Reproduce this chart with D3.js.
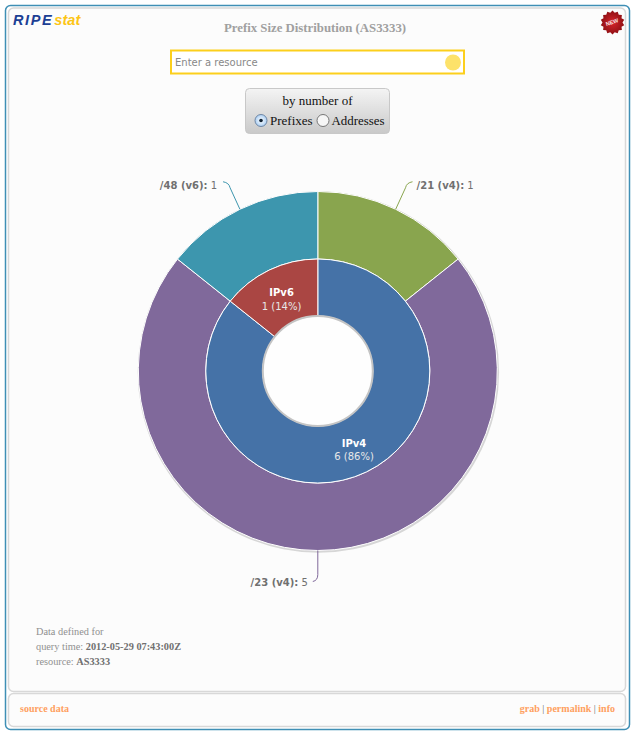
<!DOCTYPE html>
<html><head><meta charset="utf-8">
<script src="https://cdnjs.cloudflare.com/ajax/libs/d3/7.8.5/d3.min.js"></script>
<style>
html,body{margin:0;padding:0;background:#fff;overflow:hidden}
svg{display:block}
.serif{font-family:"Liberation Serif",serif}
.sans{font-family:"DejaVu Sans",sans-serif}
</style></head><body>
<script>
const innerCategories=["IPv4","IPv6"];
const innerValues=[6,1];
const innerPercents=["86%","14%"];
const innerColors=["#4572a7","#aa4643"];
const outerCategories=["/21 (v4):","/23 (v4):","/48 (v6):"];
const outerValues=[1,5,1];
const outerColors=["#89a54e","#80699b","#3d96ae"];
const title="Prefix Size Distribution (AS3333)";
const footerLinks=["grab","permalink","info"];

const W=640,H=741,cx=317.8,cy=371,R0=55,R1=112,R2=179.5;
const svg=d3.select("body").append("svg").attr("width",W).attr("height",H);
const defs=svg.append("defs");
const g1=defs.append("linearGradient").attr("id","btn").attr("x1",0).attr("x2",0).attr("y1",0).attr("y2",1);
g1.append("stop").attr("offset",0).attr("stop-color","#f4f4f4");
g1.append("stop").attr("offset",1).attr("stop-color","#c9c9c9");
const g2=defs.append("radialGradient").attr("id","radio");
g2.append("stop").attr("offset",0).attr("stop-color","#ffffff");
g2.append("stop").attr("offset",1).attr("stop-color","#a9cdf2");
const g3=defs.append("radialGradient").attr("id","badge");
g3.append("stop").attr("offset",0).attr("stop-color","#d8252c");
g3.append("stop").attr("offset",1).attr("stop-color","#8f1014");

// frame
svg.append("rect").attr("x",5.5).attr("y",5.5).attr("width",624).attr("height",724).attr("rx",5).attr("fill","#fff").attr("stroke","#3f8fb5").attr("stroke-width",1.5);
svg.append("rect").attr("x",8.5).attr("y",8).attr("width",617).attr("height",683.5).attr("rx",5).attr("fill","#fcfcfc").attr("stroke","#d8d8d8").attr("stroke-width",1.5);
svg.append("rect").attr("x",8.5).attr("y",693.5).attr("width",617).attr("height",33).attr("rx",5).attr("fill","#fcfcfc").attr("stroke","#d8d8d8").attr("stroke-width",1.5);

// logo
const logo=svg.append("text").attr("x",13).attr("y",25).attr("font-family","Liberation Sans").attr("font-size",14.5).attr("font-style","italic").attr("font-weight","bold");
logo.append("tspan").attr("fill","#1c3f94").attr("letter-spacing",1.6).text("RIPE");
logo.append("tspan").attr("fill","#fcc516").attr("dx",1).attr("letter-spacing",.1).text("stat");

// title
svg.append("text").attr("class","serif").attr("x",315).attr("y",32).attr("text-anchor","middle").attr("font-size",12.8).attr("font-weight","bold").attr("fill","#a0a0a0").text(title);

// badge
const star=d3.range(28).map(i=>[i*Math.PI/14,i%2?10:12]);
const bx=612.5,by=22.5;
svg.append("path").attr("transform",`translate(${bx},${by})`).attr("d",d3.lineRadial().curve(d3.curveLinearClosed)(star)).attr("fill","url(#badge)");
svg.append("text").attr("transform",`translate(${bx},${by+1.5}) rotate(-18)`).attr("text-anchor","middle").attr("font-family","Liberation Sans").attr("font-size",5.5).attr("font-weight","bold").attr("fill","#f7e3e3").text("NEW");

// input
svg.append("rect").attr("x",171).attr("y",50.5).attr("width",293).attr("height",23).attr("fill","#fff").attr("stroke","#fccf1c").attr("stroke-width",2);
svg.append("text").attr("x",175).attr("y",66).attr("font-size",10).attr("fill","#888").attr("font-family","DejaVu Sans").text("Enter a resource");
svg.append("circle").attr("cx",453).attr("cy",62.5).attr("r",8).attr("fill","#fde26a");

// button group
svg.append("rect").attr("x",245.5).attr("y",88.5).attr("width",144).attr("height",45).attr("rx",4).attr("fill","url(#btn)").attr("stroke","#c8c8c8");
svg.append("text").attr("class","serif").attr("x",317.5).attr("y",105).attr("text-anchor","middle").attr("font-size",13).attr("fill","#111").text("by number of");
svg.append("circle").attr("cx",261).attr("cy",120.5).attr("r",6).attr("fill","url(#radio)").attr("stroke","#6f87a5");
svg.append("circle").attr("cx",261).attr("cy",120.5).attr("r",1.8).attr("fill","#123");
svg.append("text").attr("class","serif").attr("x",270).attr("y",125).attr("font-size",13).attr("fill","#111").text("Prefixes");
svg.append("circle").attr("cx",323).attr("cy",120.5).attr("r",6).attr("fill","#f6f6f6").attr("stroke","#777");
svg.append("text").attr("class","serif").attr("x",331.5).attr("y",125).attr("font-size",12.9).attr("fill","#111").text("Addresses");

// donut
const pie=d3.pie().sort(null).value(d=>d);
const chart=svg.append("g").attr("transform",`translate(${cx},${cy})`);
const arcOuter=d3.arc().innerRadius(R1).outerRadius(R2);
const arcInner=d3.arc().innerRadius(R0).outerRadius(R1);
chart.append("circle").attr("cx",.6).attr("cy",1).attr("r",R2+1.2).attr("fill","#d6d6d6");
const outerArcs=pie(outerValues), innerArcs=pie(innerValues);
chart.selectAll(".o").data(outerArcs).join("path").attr("class","o").attr("d",arcOuter).attr("fill",(d,i)=>outerColors[i]).attr("stroke","#fff").attr("stroke-width",1);
chart.selectAll(".i").data(innerArcs).join("path").attr("class","i").attr("d",arcInner).attr("fill",(d,i)=>innerColors[i]).attr("stroke","#fff").attr("stroke-width",1);
chart.append("circle").attr("r",R0).attr("fill","#fefefe").attr("stroke","#c4c4c4").attr("stroke-width",2);

// inner labels
innerArcs.forEach((d,i)=>{
  const mid=(d.startAngle+d.endAngle)/2, r=(R0+R1)/2;
  const px=Math.sin(mid)*r, py=-Math.cos(mid)*r;
  chart.append("text").attr("class","sans").attr("x",px).attr("y",py+0.5).attr("text-anchor","middle").attr("font-size",10).attr("font-weight","bold").attr("fill","#fff").text(innerCategories[i]);
  chart.append("text").attr("class","sans").attr("x",px).attr("y",py+14).attr("text-anchor","middle").attr("font-size",10).attr("fill","#e8e8e8").text(`${innerValues[i]} (${innerPercents[i]})`);
});

// outer labels and connectors
outerArcs.forEach((d,i)=>{
  const mid=(d.startAngle+d.endAngle)/2, s=Math.sin(mid), c=-Math.cos(mid);
  const x0=s*R2,y0=c*R2,x1=s*(R2+25),y1=c*(R2+25);
  const side=i===0?1:-1;
  const ex=x1+side*(i===1?5:6), ey=y1+(i===1?6:-5);
  const p=d3.path();p.moveTo(x0,y0);p.lineTo(x1-(i===1?0:side*1),y1-(i===1?1:-1));p.quadraticCurveTo(x1,y1+(i===1?5:-4),ex,ey);
  chart.append("path").attr("d",p.toString()).attr("fill","none").attr("stroke",outerColors[i]).attr("stroke-width",1);
  const t=chart.append("text").attr("class","sans").attr("x",ex+side*(i===1?5:i===0?4:6)).attr("y",ey+(i===1?4:7)).attr("text-anchor",side>0?"start":"end").attr("font-size",10);
  t.append("tspan").attr("font-weight","bold").attr("fill","#707070").text(outerCategories[i]);
  t.append("tspan").attr("fill","#707070").text(" "+outerValues[i]);
});

// notes
const notes=svg.append("g").attr("class","serif").attr("font-size",10.3).attr("fill","#909090");
notes.append("text").attr("x",36).attr("y",635).text("Data defined for");
let n2=notes.append("text").attr("x",36).attr("y",650);n2.append("tspan").text("query time: ");n2.append("tspan").attr("font-weight","bold").attr("fill","#707070").text("2012-05-29 07:43:00Z");
let n3=notes.append("text").attr("x",36).attr("y",664.5);n3.append("tspan").text("resource: ");n3.append("tspan").attr("font-weight","bold").attr("fill","#707070").text("AS3333");

// footer
svg.append("text").attr("class","serif").attr("x",20).attr("y",712).attr("font-size",10).attr("font-weight","bold").attr("fill","#ffa060").text("source data");
const f=svg.append("text").attr("class","serif").attr("x",615).attr("y",712).attr("text-anchor","end").attr("font-size",10).attr("font-weight","bold").attr("fill","#ffa060");
footerLinks.forEach((l,i)=>{if(i)f.append("tspan").attr("fill","#666").attr("font-weight","normal").text(" | ");f.append("tspan").text(l);});
</script>
</body></html>
